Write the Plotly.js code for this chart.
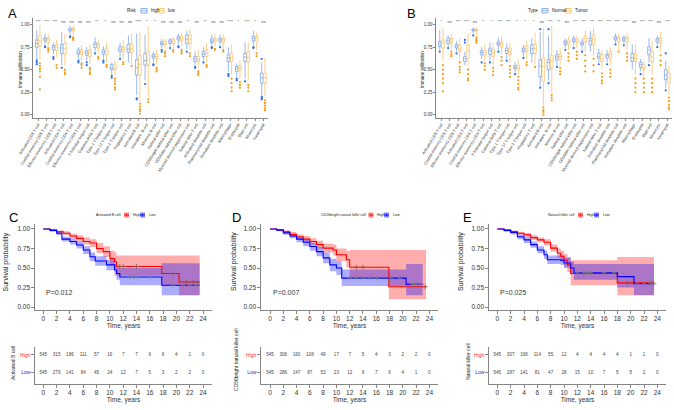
<!DOCTYPE html>
<html><head><meta charset="utf-8">
<script src="https://cdn.plot.ly/plotly-3.0.1.min.js"></script>
<style>html,body{margin:0;padding:0;background:#fff}#chart{width:674px;height:410px}</style>
</head><body><div id="chart"></div>
<script>
// ---------- DATA ----------
const cellTypes = ["Activated CD8 T cell","Central memory CD8 T cell","Effector memeory CD8 T cell","Activated CD4 T cell","Central memory CD4 T cell","Effector memeory CD4 T cell","T follicular helper cell","Gamma delta T cell","Type 1 T helper cell","Type 17 T helper cell","Type 2 T helper cell","Regulatory T cell","Activated B cell","Immature  B cell","Memory B cell","Natural killer cell","CD56bright natural killer cell","CD56dim natural killer cell","Myeloid derived suppressor cell","Natural killer T cell","Activated dendritic cell","Plasmacytoid dendritic cell","Immature dendritic cell","Macrophage","Eosinophil","Mast cell","Monocyte","Neutrophil"];

// [lower whisker, q1, median, q3, upper whisker]
const aHighStats = [[.61,.75,.79,.83,.94],[.78,.82,.84,.855,.90],[.67,.72,.75,.77,.80],[.55,.68,.74,.78,.92],[.89,.93,.94,.96,.99],[.62,.67,.69,.72,.75],[.60,.66,.685,.71,.75],[.70,.745,.78,.80,.86],[.62,.67,.695,.72,.76],[.45,.50,.52,.555,.58],[.64,.70,.725,.755,.80],[.58,.69,.73,.78,.88],[.22,.44,.52,.61,.90],[.38,.55,.60,.68,.89],[.58,.63,.65,.67,.70],[.74,.775,.79,.81,.84],[.76,.79,.81,.83,.85],[.78,.83,.85,.87,.90],[.73,.79,.84,.885,.93],[.55,.59,.62,.645,.70],[.60,.645,.67,.70,.75],[.77,.80,.82,.84,.89],[.77,.81,.83,.85,.89],[.48,.59,.63,.665,.75],[.42,.48,.51,.535,.57],[.40,.59,.64,.68,.80],[.77,.82,.845,.87,.93],[.22,.35,.41,.46,.58]];
const aLowStats = [[.62,.76,.82,.88,1.0],[.76,.80,.83,.85,.90],[.64,.71,.75,.78,.83],[.55,.67,.73,.79,.90],[.88,.93,.945,.96,.99],[.60,.67,.69,.72,.77],[.56,.645,.685,.72,.78],[.68,.745,.77,.79,.84],[.58,.665,.70,.74,.80],[.44,.50,.52,.555,.60],[.62,.70,.725,.755,.83],[.56,.69,.73,.79,.90],[.14,.44,.56,.66,.92],[.20,.55,.61,.70,.98],[.55,.62,.645,.67,.72],[.73,.775,.79,.82,.85],[.74,.79,.815,.84,.86],[.76,.82,.845,.87,.91],[.72,.79,.84,.885,.95],[.52,.585,.615,.645,.72],[.58,.645,.68,.72,.79],[.76,.81,.83,.85,.90],[.74,.80,.83,.85,.90],[.45,.59,.635,.68,.78],[.40,.49,.52,.545,.60],[.38,.59,.64,.70,.80],[.72,.81,.845,.87,.91],[.20,.35,.41,.46,.63]];
const aHighOut = [[.58,.56,.60],[.76,.75],[.64,.62],[.52],[.87,.86],[.60,.58],[.58,.55],[.68],[.60,.58],[.43,.41],[.62],[],[.18,.17],[.34],[.56,.55],[.72,.70],[.74],[.76,.75],[.70],[.53,.52],[.58],[.75,.74],[.75],[.45,.43],[.40,.38],[.37],[.75,.74],[.20,.18,.17,.62]];
const aLowOut = [[.57,.54,.51,.48,.42,.28],[.74,.72,.70],[.55,.52],[.50,.47,.45],[.86,.85,.84,.83],[.57,.55,.52],[.52,.50,.47,.45],[.64,.62],[.55,.53],[.40,.37,.34,.30,.28],[.58,.56],[.54],[.12,.09,.06,.04,.01],[.17,.14],[.52,.50,.48],[.70,.68,.65],[.72,.70],[.72,.70,.68],[.68,.65],[.48,.46,.44],[.55,.53],[.73,.72],[.72,.70],[.40,.35,.30,.26],[.36,.33,.30],[.33,.30,.26],[.68,.65],[.16,.13,.10,.07,.05]];
const aSig = ["***","***","***","ns","ns","ns","ns","**","*","ns","ns","ns","****","*","*","ns","ns","ns","*","ns","**","ns","ns","****","*","***","*","ns"];

const bNormalStats = [[.72,.757,.786,.81,.94],[.75,.79,.82,.85,.88],[.70,.74,.76,.78,.82],[.55,.59,.62,.645,.70],[.90,.93,.935,.95,.97],[.62,.665,.69,.71,.75],[.60,.67,.71,.74,.80],[.72,.775,.79,.81,.86],[.62,.68,.71,.74,.79],[.47,.51,.525,.545,.58],[.65,.70,.72,.74,.78],[.58,.68,.73,.775,.85],[.32,.425,.54,.61,.92],[.38,.50,.58,.61,.88],[.55,.61,.64,.665,.72],[.74,.78,.80,.82,.85],[.76,.81,.83,.85,.88],[.72,.775,.79,.81,.85],[.70,.775,.82,.85,.93],[.58,.63,.65,.68,.73],[.58,.63,.655,.67,.72],[.80,.83,.85,.87,.90],[.79,.82,.84,.86,.88],[.50,.59,.63,.68,.78],[.48,.525,.555,.58,.62],[.58,.665,.72,.755,.85],[.77,.805,.83,.85,.88],[.30,.39,.44,.50,.60]];
const bTumorStats = [[.60,.74,.80,.83,.96],[.72,.80,.83,.85,.90],[.62,.70,.73,.775,.85],[.55,.63,.71,.775,.90],[.88,.93,.935,.95,.97],[.60,.66,.69,.72,.78],[.56,.645,.685,.72,.80],[.68,.75,.775,.80,.87],[.58,.665,.70,.74,.80],[.45,.50,.52,.55,.62],[.62,.70,.73,.76,.82],[.56,.68,.735,.78,.91],[.10,.37,.54,.63,.96],[.25,.52,.60,.66,.99],[.55,.615,.645,.67,.74],[.72,.775,.80,.83,.87],[.74,.80,.82,.84,.88],[.70,.81,.845,.87,.93],[.66,.775,.84,.885,.97],[.50,.59,.62,.665,.72],[.55,.63,.67,.70,.75],[.72,.81,.84,.86,.90],[.72,.81,.84,.86,.90],[.45,.59,.625,.67,.78],[.43,.50,.52,.55,.60],[.45,.59,.64,.70,.82],[.70,.79,.82,.85,.92],[.22,.35,.41,.46,.55]];
const bNormalOut = [[.70],[.74],[.68],[.83,.80],[.88],[.58],[.58],[.70],[.60],[.45],[.63],[],[.95,.30],[.95,.35],[.53],[.72],[.74],[.70],[],[.56],[.56],[.78],[.77],[],[.45],[.55],[.75],[.68,.27]];
const bTumorOut = [[.55,.50,.45,.40,.35,.26],[.70,.67,.65],[.58,.53,.50,.47],[.50,.45,.40,.38],[.86,.84,.82,.80],[.57,.54,.50],[.52,.48,.44],[.64,.60,.55],[.54,.50,.46,.42],[.42,.38,.34,.30,.28],[.58,.55],[.53],[.08,.05,.03,.0],[.22,.19,.16],[.52,.48,.45],[.68,.64,.60],[.70,.66,.62],[.66,.60,.54,.48],[.62,.55,.48],[.46,.42,.38,.35],[.50,.46,.42],[.70],[.68,.64,.60],[.40,.35,.30,.25],[.40,.35,.30,.25],[.40,.35,.30,.25],[.66,.60,.55],[.19,.15,.11,.08,.06]];
const bSig = ["*","ns","***","***","ns","*","*","***","***","*","*","*","ns","***","**","ns","***","***","***","***","***","***","***","ns","***","***","ns","***"];

// Survival (C: Activated B cell)
const cHighT  = [0,1,2,3,4,5,6,7,8,9,10,10.7,11,17.8,20.4,23.5];
const cHighS  = [1,.99,.965,.945,.91,.88,.84,.82,.75,.71,.62,.58,.52,.43,.32,.32];
const cHighLo = [1,.98,.95,.92,.88,.84,.80,.77,.69,.64,.54,.48,.40,.27,.15,.15];
const cHighHi = [1,1,.98,.97,.94,.92,.89,.87,.82,.78,.72,.70,.66,.66,.66,.66];
const cHighCens = [11.5,12,14,19.5,21.5,22.5,23.2];
const cLowT  = [0,1,2,2.8,4,5,6,7,7.8,9.5,10.7,11,11.5,17.8,23.5];
const cLowS  = [1,.98,.945,.87,.84,.795,.73,.645,.59,.54,.475,.43,.385,.28,.28];
const cLowLo = [1,.965,.92,.84,.80,.75,.68,.59,.53,.47,.40,.35,.28,.15,.15];
const cLowHi = [1,.99,.97,.90,.88,.84,.78,.70,.65,.61,.55,.51,.50,.56,.56];
const cLowCens = [13,13.6,14.2,16,19.5,21,22,23];
// D: CD56bright natural killer cell
const dHighT  = [0,1,2,3,4,5,6,7,8,9.5,10,11.5,12,17.9,23.5];
const dHighS  = [1,.99,.965,.93,.90,.87,.84,.80,.755,.73,.67,.605,.51,.26,.26];
const dHighLo = [1,.98,.945,.90,.87,.83,.80,.75,.70,.66,.59,.51,.38,.10,.10];
const dHighHi = [1,1,.985,.96,.93,.91,.88,.85,.81,.80,.75,.72,.73,.73,.73];
const dHighCens = [13,14,23.4];
const dLowT  = [0,1,2,3,4,5,6,7,8,9,10,10.8,20.5,23];
const dLowS  = [1,.985,.95,.91,.87,.83,.775,.71,.63,.54,.50,.37,.29,.29];
const dLowLo = [1,.97,.925,.88,.83,.78,.72,.65,.56,.46,.41,.27,.15,.15];
const dLowHi = [1,1,.97,.94,.90,.87,.82,.77,.70,.62,.59,.48,.55,.55];
const dLowCens = [12,13,14,15,16,18.2,19.5,21.5,22,22.8];
// E: Natural killer cell
const eHighT  = [0,1,2,3,4,5,6,7,8,9,9.5,10,10.5,11,18,23.5];
const eHighS  = [1,.99,.966,.945,.925,.89,.86,.83,.755,.69,.65,.60,.54,.43,.31,.31];
const eHighLo = [1,.98,.95,.925,.90,.86,.83,.79,.71,.63,.58,.52,.45,.28,.15,.15];
const eHighHi = [1,1,.98,.965,.95,.92,.89,.87,.80,.75,.72,.68,.64,.60,.64,.64];
const eHighCens = [13,14,19.5,23];
const eLowT  = [0,1,2,3,4,5,6,7,7.5,9.5,10,11,11.5,18,20.5,23.5];
const eLowS  = [1,.98,.955,.90,.86,.80,.73,.67,.605,.60,.565,.50,.44,.39,.30,.30];
const eLowLo = [1,.965,.93,.87,.82,.76,.69,.62,.55,.54,.50,.42,.35,.25,.15,.15];
const eLowHi = [1,.99,.975,.93,.90,.84,.78,.72,.66,.66,.63,.58,.55,.55,.55,.55];
const eLowCens = [12,13,13.5,14,16,17.5,21,22,23,23.5];

const timeTicks = [0,2,4,6,8,10,12,14,16,18,20,22,24];
const survTicks = [0,0.25,0.5,0.75,1];
const cRiskHigh = [545,315,186,111,57,16,7,7,6,6,4,1,0];
const cRiskLow  = [545,279,141,84,45,24,12,7,5,3,2,2,0];
const dRiskHigh = [545,308,160,108,49,17,7,5,4,3,2,2,0];
const dRiskLow  = [545,286,147,87,53,23,12,9,7,6,4,1,0];
const eRiskHigh = [545,307,166,114,55,12,4,4,4,4,1,1,0];
const eRiskLow  = [545,287,141,81,47,28,15,10,7,5,5,2,0];
const pC = "P=0.012", pD = "P=0.007", pE = "P=0.025";

// ---------- BUILD ----------
const W=674,H=410;
const PX=x=>x/W, PY=y=>1-y/H;
const FONT='Liberation Sans, Arial, sans-serif';
const BLUE_LINE='#6E9BE6', BLUE_PT='#2A6DE8', ORG_LINE='#F6BB5C', ORG_PT='#F59B16';
const RED='#FF0000', BLU='#0000FF';
const idx = cellTypes.map((_,i)=>i);
const OFF = 0.19;

function boxTrace(stats, off, color, xa, ya){
  return {type:'box', xaxis:xa, yaxis:ya, x: idx.map(i=>i+off),
    lowerfence: stats.map(s=>s[0]), q1: stats.map(s=>s[1]), median: stats.map(s=>s[2]),
    q3: stats.map(s=>s[3]), upperfence: stats.map(s=>s[4]),
    width:0.32, whiskerwidth:0, fillcolor:'#ffffff', line:{color:color,width:0.7},
    boxpoints:false, showlegend:false, hoverinfo:'skip'};
}
function outTrace(outs, off, color, xa, ya){
  const xs=[], ys=[];
  outs.forEach((arr,i)=>arr.forEach(v=>{xs.push(i+off); ys.push(v);}));
  return {type:'scatter', mode:'markers', xaxis:xa, yaxis:ya, x:xs, y:ys,
    marker:{size:2.2,color:color}, showlegend:false, hoverinfo:'skip'};
}
function sigTrace(sig, xa, ya){
  return {type:'scatter', mode:'text', xaxis:xa, yaxis:ya, x:idx, y:idx.map(()=>1.03),
    text:sig, textfont:{size:4,color:'#444',family:FONT}, showlegend:false, hoverinfo:'skip', cliponaxis:false};
}
function stepAt(t,s,c){ let v=s[0]; for(let i=0;i<t.length;i++){ if(t[i]<=c) v=s[i]; } return v; }
function band(t,lo,hi,fill,xa,ya){
  return [
    {type:'scatter',mode:'lines',x:t,y:lo,line:{width:0,shape:'hv'},xaxis:xa,yaxis:ya,showlegend:false,hoverinfo:'skip'},
    {type:'scatter',mode:'lines',x:t,y:hi,line:{width:0,shape:'hv'},fill:'tonexty',fillcolor:fill,xaxis:xa,yaxis:ya,showlegend:false,hoverinfo:'skip'}
  ];
}
function curve(t,s,cens,color,xa,ya){
  return [
    {type:'scatter',mode:'lines',x:t,y:s,line:{width:1.1,shape:'hv',color:color},xaxis:xa,yaxis:ya,showlegend:false,hoverinfo:'skip'},
    {type:'scatter',mode:'markers',x:cens,y:cens.map(c=>stepAt(t,s,c)),marker:{symbol:'cross-thin-open',size:3.5,line:{color:color,width:0.8}},xaxis:xa,yaxis:ya,showlegend:false,hoverinfo:'skip'}
  ];
}
function riskText(vals,row,xa,ya){
  return {type:'scatter',mode:'text',x:timeTicks,y:timeTicks.map(()=>row),text:vals.map(String),
    textfont:{size:4.6,color:'#444',family:FONT},xaxis:xa,yaxis:ya,showlegend:false,hoverinfo:'skip'};
}

const traces = [];
traces.push(boxTrace(aHighStats,-OFF,BLUE_LINE,'x','y'), boxTrace(aLowStats,OFF,ORG_LINE,'x','y'),
  outTrace(aHighOut,-OFF,BLUE_PT,'x','y'), outTrace(aLowOut,OFF,ORG_PT,'x','y'), sigTrace(aSig,'x','y'));
traces.push(boxTrace(bNormalStats,-OFF,BLUE_LINE,'x2','y2'), boxTrace(bTumorStats,OFF,ORG_LINE,'x2','y2'),
  outTrace(bNormalOut,-OFF,BLUE_PT,'x2','y2'), outTrace(bTumorOut,OFF,ORG_PT,'x2','y2'), sigTrace(bSig,'x2','y2'));

const RF='rgba(255,0,0,0.32)', BF='rgba(0,0,255,0.32)';
const surv = [
  [cHighT,cHighS,cHighLo,cHighHi,cHighCens,cLowT,cLowS,cLowLo,cLowHi,cLowCens,'x3','y3',cRiskHigh,cRiskLow,'x6','y6'],
  [dHighT,dHighS,dHighLo,dHighHi,dHighCens,dLowT,dLowS,dLowLo,dLowHi,dLowCens,'x4','y4',dRiskHigh,dRiskLow,'x7','y7'],
  [eHighT,eHighS,eHighLo,eHighHi,eHighCens,eLowT,eLowS,eLowLo,eLowHi,eLowCens,'x5','y5',eRiskHigh,eRiskLow,'x8','y8']
];
surv.forEach(p=>{
  traces.push(...band(p[0],p[2],p[3],RF,p[10],p[11]));
  traces.push(...band(p[5],p[7],p[8],BF,p[10],p[11]));
  traces.push(...curve(p[0],p[1],p[4],RED,p[10],p[11]));
  traces.push(...curve(p[5],p[6],p[9],BLU,p[10],p[11]));
  traces.push(riskText(p[12],2,p[14],p[15]), riskText(p[13],1,p[14],p[15]));
});

const axBase = {showgrid:false, zeroline:false, showline:true, linecolor:'#333', linewidth:0.6,
  ticks:'outside', tickcolor:'#333', tickwidth:0.6, automargin:false};
function boxX(l,r,anchor){ return Object.assign({}, axBase, {domain:[PX(l),PX(r)], range:[-0.64,27.56],
  tickvals:idx, ticktext:cellTypes, tickangle:-58, ticklen:2, tickfont:{size:4,color:'#333',family:FONT}, anchor:anchor}); }
function boxY(anchor){ return Object.assign({}, axBase, {domain:[PY(118),PY(18)], range:[-0.037,1.074],
  tickvals:survTicks, ticktext:survTicks.map(v=>v.toFixed(2)), ticklen:2, tickfont:{size:4.5,color:'#333',family:FONT}, anchor:anchor}); }
function survX(l,r,lo,hi,anchor){ return Object.assign({}, axBase, {domain:[PX(l),PX(r)], range:[lo,hi],
  tickvals:timeTicks, ticklen:3, tickfont:{size:6.5,color:'#333',family:FONT}, anchor:anchor,
  title:{text:'Time, years', font:{size:6.5,color:'#333',family:FONT}, standoff:1}}); }
function survY(anchor){ return Object.assign({}, axBase, {domain:[PY(310),PY(224)], range:[-0.038,1.064],
  tickvals:survTicks, tickformat:'.2f', ticklen:3, tickfont:{size:6.5,color:'#333',family:FONT}, anchor:anchor}); }
function riskY(anchor){ return Object.assign({}, axBase, {domain:[PY(384),PY(347)], range:[0.36,2.45],
  tickvals:[2,1], ticktext:['<span style="color:#FF3030">High</span>','<span style="color:#3030C0">Low</span>'],
  ticklen:3, tickfont:{size:5,family:FONT}, anchor:anchor}); }

const layout = {
  width:W, height:H, margin:{l:0,r:0,t:0,b:0}, paper_bgcolor:'#fff', plot_bgcolor:'#fff',
  showlegend:false, boxmode:'overlay', font:{family:FONT,color:'#333'},
  xaxis: boxX(33,268,'y'), yaxis: boxY('x'),
  xaxis2: boxX(436,672,'y2'), yaxis2: boxY('x2'),
  xaxis3: survX(35,212,-1.25,25.35,'y3'), yaxis3: survY('x3'),
  xaxis4: survX(261,438,-1.36,25.3,'y4'), yaxis4: survY('x4'),
  xaxis5: survX(489,666,-1.25,25.3,'y5'), yaxis5: survY('x5'),
  xaxis6: survX(35,212,-1.25,25.35,'y6'), yaxis6: riskY('x6'),
  xaxis7: survX(261,438,-1.36,25.3,'y7'), yaxis7: riskY('x7'),
  xaxis8: survX(489,666,-1.25,25.3,'y8'), yaxis8: riskY('x8'),
  annotations: [], shapes: []
};
const A = layout.annotations, S = layout.shapes;
function txt(x,y,text,size,opts){ A.push(Object.assign({xref:'paper',yref:'paper',x:PX(x),y:PY(y),text:text,showarrow:false,
  font:{size:size,color:'#222',family:FONT},xanchor:'center',yanchor:'middle'},opts||{})); }
[['A',12,13],['B',411,13],['C',13,217],['D',236,217],['E',467,217]].forEach(l=>txt(l[1],l[2],l[0],13,{font:{size:13,color:'#000',family:FONT}}));
txt(20,70,'Immune infiltration',4.5,{textangle:-90});
txt(422,70,'Immune infiltration',4.5,{textangle:-90});
txt(5.5,262,'Survival probability',7,{textangle:-90});
txt(234,262,'Survival probability',7,{textangle:-90});
txt(461,262,'Survival probability',7,{textangle:-90});
txt(13,363,'Activated B cell',5,{textangle:-90});
txt(236,360,'CD56bright natural killer cell',5,{textangle:-90});
txt(468,362,'Natural killer cell',5,{textangle:-90});
[[pC,'x3','y3'],[pD,'x4','y4'],[pE,'x5','y5']].forEach(p=>A.push({xref:p[1],yref:p[2],x:0.1,y:0.18,text:p[0],showarrow:false,
  xanchor:'left',yanchor:'middle',font:{size:7,color:'#333',family:FONT}}));
function boxLegend(title,n1,n2,xt,k1,l1,k2,l2){
  txt(xt,10.7,title,4.5,{xanchor:'right'});
  [[k1,BLUE_LINE],[k2,ORG_LINE]].forEach(k=>{
    S.push({type:'rect',xref:'paper',yref:'paper',x0:PX(k[0]),x1:PX(k[0]+6),y0:PY(13),y1:PY(8.5),line:{color:k[1],width:0.8},fillcolor:'#fff'});
    S.push({type:'line',xref:'paper',yref:'paper',x0:PX(k[0]),x1:PX(k[0]+6),y0:PY(10.7),y1:PY(10.7),line:{color:k[1],width:0.8}});
  });
  txt(l1,10.7,n1,4.5,{xanchor:'left'}); txt(l2,10.7,n2,4.5,{xanchor:'left'});
}
boxLegend('Risk','high','low',139,141,149,158,166);
boxLegend('Type','Normal','Tumor',540,542,550,565,573);
function survLegend(title,xt,k1,l1,k2,l2){
  txt(xt,215,title,3.6,{xanchor:'right'});
  [[k1,'#FF8C8C',RED],[k2,'#8C8CFF',BLU]].forEach(k=>{
    S.push({type:'rect',xref:'paper',yref:'paper',x0:PX(k[0]),x1:PX(k[0]+5),y0:PY(217.5),y1:PY(212.5),line:{width:0},fillcolor:k[1]});
    S.push({type:'line',xref:'paper',yref:'paper',x0:PX(k[0]),x1:PX(k[0]+5),y0:PY(215),y1:PY(215),line:{color:k[2],width:0.8}});
    S.push({type:'line',xref:'paper',yref:'paper',x0:PX(k[0]+2.5),x1:PX(k[0]+2.5),y0:PY(216.5),y1:PY(213.5),line:{color:k[2],width:0.6}});
  });
  txt(l1,215,'High',3.6,{xanchor:'left'}); txt(l2,215,'Low',3.6,{xanchor:'left'});
}
survLegend('Activated B cell',122.5,124,130.5,140,146.5);
survLegend('CD56bright natural killer cell',367.5,368.5,375,384,390.5);
survLegend('Natural killer cell',577,578,584.5,594,600.5);

Plotly.newPlot('chart', traces, layout, {staticPlot:true, displayModeBar:false});
</script></body></html>
